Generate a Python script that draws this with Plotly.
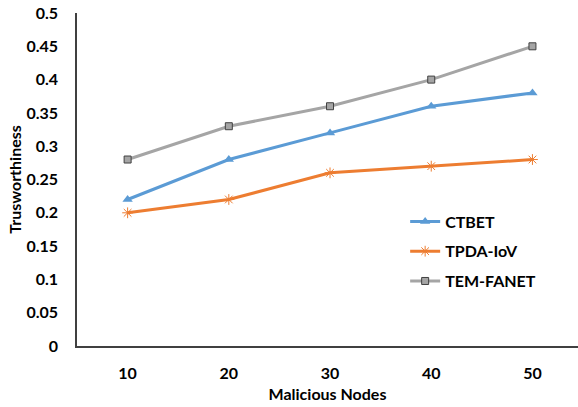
import plotly.graph_objects as go

categories = ["10", "20", "30", "40", "50"]
ctbet = [0.22, 0.28, 0.32, 0.36, 0.38]
tpda = [0.20, 0.22, 0.26, 0.27, 0.28]
temfanet = [0.28, 0.33, 0.36, 0.40, 0.45]
y_ticks = [0, 0.05, 0.1, 0.15, 0.2, 0.25, 0.3, 0.35, 0.4, 0.45, 0.5]
y_tick_labels = ["0", "0.05", "0.1", "0.15", "0.2", "0.25", "0.3", "0.35", "0.4", "0.45", "0.5"]

FONT = "Lato"
xs = list(range(len(categories)))

fig = go.Figure()
fig.add_trace(go.Scatter(
    x=xs, y=ctbet, name="CTBET", mode="lines+markers", legendgroup="a",
    line=dict(color="#5B9BD5", width=3),
    marker=dict(symbol="triangle-up", size=9, color="#5B9BD5")))
fig.add_trace(go.Scatter(
    x=xs, y=tpda, name="TPDA-IoV", mode="lines+markers", legendgroup="b",
    line=dict(color="#ED7D31", width=3),
    marker=dict(symbol="asterisk-open", size=9, color="#ED7D31", line=dict(color="#ED7D31", width=1))))
fig.add_trace(go.Scatter(
    x=xs, y=temfanet, name="TEM-FANET", mode="lines+markers", legendgroup="c",
    line=dict(color="#A5A5A5", width=3),
    marker=dict(symbol="square", size=7, color="#A5A5A5", line=dict(color="#404040", width=1))))

fig.update_layout(
    width=578, height=407,
    margin=dict(l=77, r=0, t=13, b=61),
    paper_bgcolor="white", plot_bgcolor="white",
    font=dict(family=FONT, size=16, color="black"),
    legend=dict(x=0.655, y=0.425, xanchor="left", yanchor="top",
                traceorder="grouped", tracegroupgap=6,
                font=dict(family=FONT, size=16, color="black", weight="bold"),
                bgcolor="rgba(0,0,0,0)"),
    xaxis=dict(
        range=[-0.5, 4.45], tickmode="array", tickvals=xs, ticktext=categories,
        showgrid=False, zeroline=False, showline=True, linecolor="#404040", linewidth=1.5,
        ticks="", ticklabelstandoff=12,
        tickfont=dict(family=FONT, size=16, weight="bold"),
        title=dict(text="Malicious Nodes", standoff=8,
                   font=dict(family=FONT, size=16, weight="bold"))),
    yaxis=dict(
        range=[0, 0.5], tickmode="array", tickvals=y_ticks, ticktext=y_tick_labels,
        showgrid=False, zeroline=False, showline=True, linecolor="#404040", linewidth=1.5,
        ticks="", ticklabelstandoff=14,
        tickfont=dict(family=FONT, size=16, weight="bold"),
        title=dict(text="Trusworthiness", standoff=1,
                   font=dict(family=FONT, size=16, weight="bold"))),
)

fig.write_html("out.html")
